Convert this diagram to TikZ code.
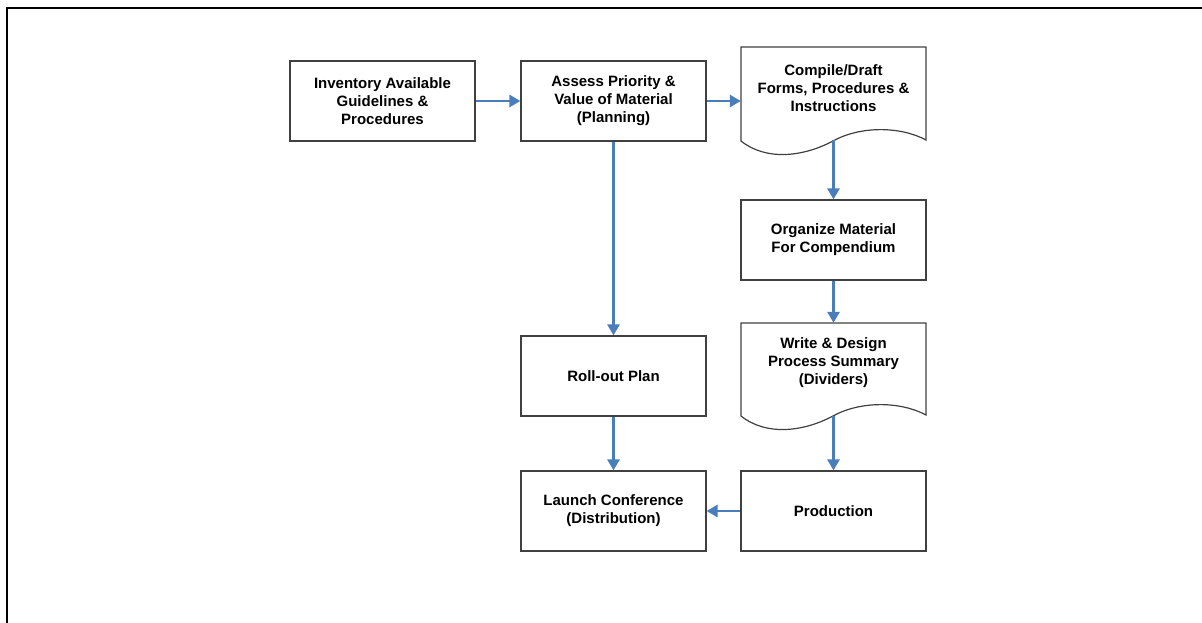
\documentclass[tikz,border=0pt]{standalone}
\usepackage{fontspec}
\setmainfont{Liberation Sans}
\usetikzlibrary{arrows.meta}
\definecolor{arrowblue}{RGB}{74,126,187}
\definecolor{boxgray}{RGB}{64,64,64}
\tikzset{
  box/.style={draw=boxgray, line width=1.2pt, minimum width=185pt, minimum height=80pt,
    inner sep=0pt, align=center, font=\fontsize{15pt}{18pt}\selectfont\bfseries},
  doctext/.style={minimum width=185pt, inner sep=0pt, align=center,
    font=\fontsize{15pt}{18pt}\selectfont\bfseries},
  docline/.style={draw=boxgray, line width=1.2pt},
  flow/.style={draw=arrowblue, line width=2.8pt, -{Triangle[length=11pt,width=12pt]}},
  frameline/.style={line width=2pt, black}
}
\begin{document}
\begin{tikzpicture}[x=1pt,y=-1pt]
\useasboundingbox (0,0) rectangle (1202,623);
\draw[frameline] (6.7,623) -- (6.7,7.7) -- (1202,7.7);

\node[box] (inv) at (382.5,101) {Inventory Available\\Guidelines \&\\Procedures};
\node[box] (assess) at (613.5,101) {Assess Priority \&\\Value of Material\\(Planning)};
\node[doctext, minimum height=82pt] (compile) at (833.5,88) {Compile/Draft\\Forms, Procedures \&\\Instructions};
\node[box] (organize) at (833.5,240) {Organize Material\\For Compendium};
\node[doctext, minimum height=80pt] (write) at (833.5,363) {Write \& Design\\Process Summary\\(Dividers)};
\node[box] (rollout) at (613.5,376) {Roll-out Plan};
\node[box] (launch) at (613.5,511) {Launch Conference\\(Distribution)};
\node[box] (production) at (833.5,511) {Production};

% document outlines
\coordinate (compile-b) at (833.5,140.5);
\coordinate (write-b) at (833.5,415.5);
\draw[docline, shift={(741,141)}] (0,0) -- (0,-94) -- (185,-94) -- (185,-1)
  .. controls (159,-15) and (119,-15) .. (92,0)
  .. controls (62,16) and (25,20) .. (0,0) -- cycle;
\draw[docline, shift={(741,416)}] (0,0) -- (0,-93) -- (185,-93) -- (185,-1)
  .. controls (159,-15) and (119,-15) .. (92,0)
  .. controls (62,16) and (25,20) .. (0,0) -- cycle;

\draw[flow] (inv.east) -- (assess.west);
\draw[flow] (assess.east) -- (compile.west |- assess.east);
\draw[flow] (compile-b) -- (organize.north);
\draw[flow] (organize.south) -- (write.north);
\draw[flow] (write-b) -- (production.north);
\draw[flow] (production.west) -- (launch.east);
\draw[flow] (assess.south) -- (rollout.north);
\draw[flow] (rollout.south) -- (launch.north);
\end{tikzpicture}
\end{document}
